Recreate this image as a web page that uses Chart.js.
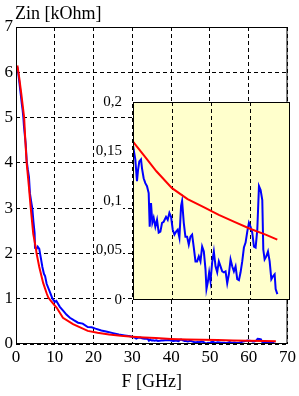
<!DOCTYPE html>
<html>
<head>
<meta charset="utf-8">
<title>Zin vs F</title>
<script src="https://cdn.jsdelivr.net/npm/chart.js@4.4.1/dist/chart.umd.min.js"></script>
<style>
    html, body { margin: 0; padding: 0; background: #fff; }
    #wrap { position: relative; width: 299px; height: 396px; overflow: hidden; }
    #mainChart { position: absolute; left: 0; top: 0; }
    #insetChart { position: absolute; left: 96px; top: 88px; }
</style>
</head>
<body>
<div id="wrap">
    <canvas id="mainChart" width="299" height="396"></canvas>
    <canvas id="insetChart" width="194" height="224"></canvas>
</div>
<script>

// red curve (smooth)
const redF = [0.35, 0.8, 1.4, 2.1, 2.4, 2.75, 3.3, 3.8, 4.45, 5.15, 5.3, 6.0, 7.0, 7.9, 8.3, 9.0,
    10.5, 12.1, 14.7, 18.5, 21, 24, 27, 30, 33, 36, 40, 44, 48, 52, 56, 60, 64, 67];
const redZ = [6.15, 5.9, 5.5, 5.0, 4.5, 4.0, 3.5, 3.0, 2.43, 2.1, 2.0, 1.7, 1.35, 1.12, 1.03, 0.95,
    0.80, 0.58, 0.44, 0.29, 0.25, 0.21, 0.18, 0.16, 0.145, 0.13, 0.113, 0.102, 0.094, 0.086, 0.079, 0.072, 0.066, 0.061];

// blue curve (measured, noisy)
const blueF = [0.35, 0.6, 0.9, 1.2, 1.5, 1.7, 1.9, 2.06, 2.5, 2.75, 3.05, 3.34, 3.6, 4.0, 4.2, 4.5, 4.8,
    4.9, 5.3, 5.6, 6.0, 6.3, 6.8, 7.2, 7.5, 7.9, 8.6, 9.4, 10.0, 10.4, 11.3, 12.2, 13.0, 13.9, 15.0,
    16.0, 17.2, 18.5, 19.5, 20.5, 22, 23.5, 25, 26.5, 28, 29.5,
    30.16, 30.59, 31.02, 31.28, 31.62, 32.05, 32.31, 32.73, 33.16, 33.59, 34.02, 34.28, 34.62, 34.96,
    35.30, 35.73, 36.16, 36.59, 37.02, 37.45, 37.87, 38.47, 38.90, 39.33, 39.76, 40.19, 40.62, 41.05,
    41.47, 41.90, 42.33, 42.59, 43.02, 43.44, 43.87, 44.30, 44.73, 45.16, 45.59, 46.02, 46.44, 46.87,
    47.30, 47.73, 48.16, 48.59, 48.84, 49.19, 49.53, 49.87, 50.30, 50.73, 51.16, 51.59, 52.01, 52.44,
    52.87, 53.30, 53.73, 54.16, 54.58, 55.01, 55.44, 55.87, 56.30, 56.73, 57.16, 57.58, 58.01, 58.44,
    58.87, 59.30, 59.73, 60.15, 60.58, 61.01, 61.44, 61.87, 62.30, 62.72, 63.15, 63.41, 63.75, 64.18,
    64.61, 65.04, 65.47, 65.90, 66.32, 66.58, 67.01];
const blueZ = [6.12, 5.97, 5.75, 5.53, 5.3, 5.17, 5.0, 4.8, 4.42, 4.05, 3.85, 3.69, 3.32, 3.1, 3.0, 2.7, 2.45,
    2.12, 2.1, 2.15, 2.1, 1.95, 1.7, 1.55, 1.5, 1.33, 1.18, 1.0, 0.93, 0.95, 0.82, 0.73, 0.65, 0.58, 0.52,
    0.47, 0.45, 0.375, 0.37, 0.34, 0.3, 0.27, 0.24, 0.21, 0.19, 0.17,
    0.152, 0.142, 0.12, 0.131, 0.14, 0.142, 0.133, 0.123, 0.118, 0.115, 0.108, 0.074, 0.098, 0.078,
    0.083, 0.074, 0.081, 0.068, 0.069, 0.078, 0.079, 0.084, 0.081, 0.088, 0.084, 0.071, 0.066, 0.069,
    0.071, 0.063, 0.095, 0.1, 0.078, 0.064, 0.064, 0.056, 0.064, 0.066, 0.053, 0.039, 0.039, 0.044,
    0.039, 0.054, 0.049, 0.031, 0.011, 0.018, 0.028, 0.019, 0.038, 0.049, 0.034, 0.028, 0.039, 0.034,
    0.029, 0.028, 0.029, 0.017, 0.026, 0.041, 0.034, 0.029, 0.034, 0.021, 0.020, 0.028, 0.039, 0.053,
    0.058, 0.069, 0.078, 0.074, 0.068, 0.054, 0.053, 0.071, 0.115, 0.111, 0.101, 0.051, 0.041, 0.044,
    0.049, 0.039, 0.021, 0.024, 0.026, 0.011, 0.006];

const mainXTicks = [0, 10, 20, 30, 40, 50, 60, 70];
const mainYTicks = [0, 1, 2, 3, 4, 5, 6, 7];
const insetXTicks = [30, 40, 50, 60, 70];
const insetYTicks = [0, 0.05, 0.1, 0.15, 0.2];
const insetYLabels = ['0', '0,05', '0,1', '0,15', '0,2'];

const xTitle = 'F [GHz]';
const yTitle = 'Zin [kOhm]';

const serif = "'Liberation Serif', 'Times New Roman', serif";

Chart.defaults.color = '#000';

function toPoints(xs, ys) {
    return xs.map((x, i) => ({ x: x, y: ys[i] }));
}

function makeDatasets() {
    return [
        {
            data: toPoints(redF, redZ),
            borderColor: '#ff0000',
            borderWidth: 2,
            pointRadius: 0,
            tension: 0
        },
        {
            data: toPoints(blueF, blueZ),
            borderColor: '#0000ff',
            borderWidth: 2,
            pointRadius: 0,
            tension: 0
        }
    ];
}

function setTicks(list) {
    return scale => {
        scale.ticks = list.map(v => ({ value: v }));
    };
}

const mainFrame = {
    id: 'mainFrame',
    afterDraw(chart) {
        const { ctx, chartArea: a } = chart;
        ctx.save();
        ctx.strokeStyle = '#000';
        ctx.lineWidth = 1;
        ctx.strokeRect(a.left + 0.5, a.top + 0.5, a.right - a.left - 1, a.bottom - a.top - 1);
        ctx.fillStyle = '#000';
        ctx.font = '18px ' + serif;
        ctx.textBaseline = 'alphabetic';
        ctx.fillText(yTitle, 15, 19);
        ctx.restore();
    }
};

const insetBox = {
    id: 'insetBox',
    beforeDraw(chart) {
        const { ctx, chartArea: a } = chart;
        ctx.save();
        ctx.fillStyle = '#ffffcc';
        ctx.fillRect(a.left, a.top, a.right - a.left + 1, a.bottom - a.top);
        ctx.restore();
    },
    afterDraw(chart) {
        const { ctx, chartArea: a } = chart;
        ctx.save();
        ctx.strokeStyle = '#000';
        ctx.lineWidth = 1;
        ctx.strokeRect(a.left + 0.5, a.top + 0.5, a.right - a.left, a.bottom - a.top - 1);
        ctx.restore();
    }
};

new Chart(document.getElementById('mainChart'), {
    type: 'line',
    data: { datasets: makeDatasets() },
    options: {
        responsive: false,
        animation: false,
        layout: { padding: { top: 27, right: 10, left: 0, bottom: 0 } },
        plugins: { legend: { display: false }, tooltip: { enabled: false } },
        scales: {
            x: {
                type: 'linear',
                min: 0,
                max: 70,
                afterBuildTicks: setTicks(mainXTicks),
                afterFit: s => { s.height = 52; },
                grid: { color: '#000', lineWidth: 1, drawTicks: false },
                border: { display: false, dash: [4, 3] },
                ticks: { font: { family: serif, size: 17 }, padding: 3, maxRotation: 0, autoSkip: false },
                title: {
                    display: true,
                    text: xTitle,
                    font: { family: serif, size: 18 },
                    padding: { top: 0, bottom: 3 }
                }
            },
            y: {
                type: 'linear',
                min: 0,
                max: 7,
                afterBuildTicks: setTicks(mainYTicks),
                afterFit: s => { s.width = 16; },
                grid: { color: '#000', lineWidth: 1, drawTicks: false },
                border: { display: false, dash: [4, 3] },
                ticks: { font: { family: serif, size: 17 }, padding: 3, autoSkip: false }
            }
        }
    },
    plugins: [mainFrame]
});

new Chart(document.getElementById('insetChart'), {
    type: 'line',
    data: { datasets: makeDatasets() },
    options: {
        responsive: false,
        animation: false,
        layout: { padding: { top: 14, right: 1, left: 0, bottom: 11 } },
        plugins: { legend: { display: false }, tooltip: { enabled: false } },
        scales: {
            x: {
                type: 'linear',
                min: 30,
                max: 70,
                afterBuildTicks: setTicks(insetXTicks),
                afterFit: s => { s.height = 0; },
                grid: { color: '#000', lineWidth: 1, drawTicks: false },
                border: { display: false, dash: [4, 3] },
                ticks: { display: false }
            },
            y: {
                type: 'linear',
                min: 0,
                max: 0.2,
                afterBuildTicks: setTicks(insetYTicks),
                afterFit: s => { s.width = 37; },
                grid: { display: false },
                border: { display: false },
                ticks: {
                    font: { family: serif, size: 15 },
                    padding: 3,
                    autoSkip: false,
                    showLabelBackdrop: true,
                    backdropColor: '#fff',
                    backdropPadding: 1,
                    callback: (v, i) => insetYLabels[i]
                }
            }
        }
    },
    plugins: [insetBox]
});

</script>
</body>
</html>
